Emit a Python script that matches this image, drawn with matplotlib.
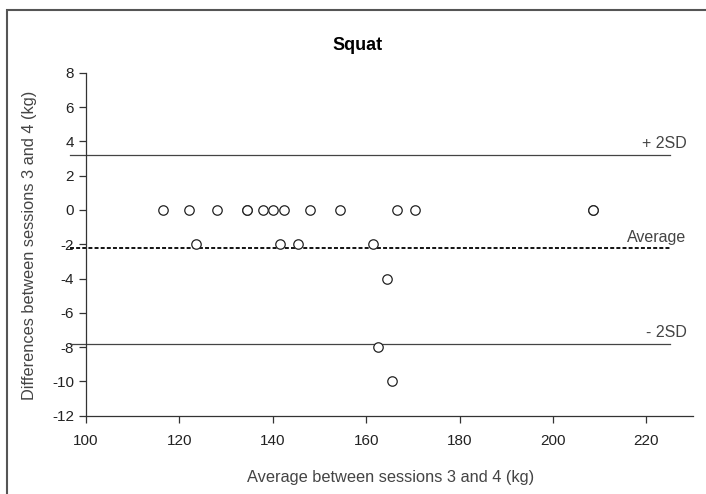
import matplotlib
matplotlib.use('Agg')
import matplotlib.pyplot as plt
from matplotlib.patches import Rectangle

plt.rcParams['font.family'] = ['Liberation Sans', 'DejaVu Sans']
plt.rcParams['axes.unicode_minus'] = False

# Bland-Altman data, squat (sessions 3 and 4)
avg_kg = [116.5, 122, 128, 134.5, 134.5, 138, 140, 142.5, 148, 154.5, 166.5, 170.5, 208.5, 208.5,
          123.5, 141.5, 145.5, 161.5, 164.5, 162.5, 165.5]
diff_kg = [0, 0, 0, 0, 0, 0, 0, 0, 0, 0, 0, 0, 0, 0,
           -2, -2, -2, -2, -4, -8, -10]
mean_diff = -2.25
upper_sd = 3.2
lower_sd = -7.8

fig = plt.figure(figsize=(7.06, 4.94), dpi=100)
ax = fig.add_axes([86 / 706, 1 - 415.7 / 494, (693 - 86) / 706, (415.7 - 72.7) / 494])

# outer frame (cropped at right/bottom)
fig.patches.append(Rectangle((7 / 706, -0.1), 1.2, 1 - 10 / 494 + 0.1,
                             transform=fig.transFigure, fill=False,
                             edgecolor='#555555', lw=1.5, clip_on=False))

x0, x1 = 96.6, 225.0
ax.plot([x0, x1], [upper_sd, upper_sd], color='#444444', lw=0.9, clip_on=False)
ax.plot([x0, x1], [lower_sd, lower_sd], color='#444444', lw=0.9, clip_on=False)
ax.plot([x0, x1], [mean_diff, mean_diff], color='black', lw=1.3,
        ls=(0, (2.2, 1.2)), clip_on=False)

ax.plot(avg_kg, diff_kg, 'o', mfc='white', mec='#222222', mew=0.9, ms=6.8,
        ls='none', zorder=3, clip_on=False)

lab_x = 228.6
ax.text(lab_x, upper_sd + 0.22, '+ 2SD', ha='right', va='bottom', fontsize=11.5, color='#444444')
ax.text(lab_x, mean_diff + 0.22, 'Average', ha='right', va='bottom', fontsize=11.5, color='#444444')
ax.text(lab_x, lower_sd + 0.22, '- 2SD', ha='right', va='bottom', fontsize=11.5, color='#444444')

ax.set_xlim(100, 230)
ax.set_ylim(-12, 8)
ax.set_xticks(range(100, 221, 20))
ax.set_yticks(range(-12, 9, 2))
ax.spines['top'].set_visible(False)
ax.spines['right'].set_visible(False)
for s in ('left', 'bottom'):
    ax.spines[s].set_color('#333333')
    ax.spines[s].set_linewidth(0.9)
ax.tick_params(direction='out', length=5, width=0.9, color='#333333',
               labelsize=11, labelcolor='#222222')
ax.tick_params(axis='x', pad=8)

fig.text(358 / 706, 1 - 45 / 494, 'Squat', ha='center', va='center',
         fontsize=13, fontweight='bold')
fig.text(391 / 706, 1 - 477 / 494, 'Average between sessions 3 and 4 (kg)',
         ha='center', va='center', fontsize=11.8, color='#444444')
fig.text(30 / 706, 1 - 245 / 494, 'Differences between sessions 3 and 4 (kg)',
         ha='center', va='center', rotation=90, fontsize=11.8, color='#444444')

fig.savefig('out.png', dpi=100)
